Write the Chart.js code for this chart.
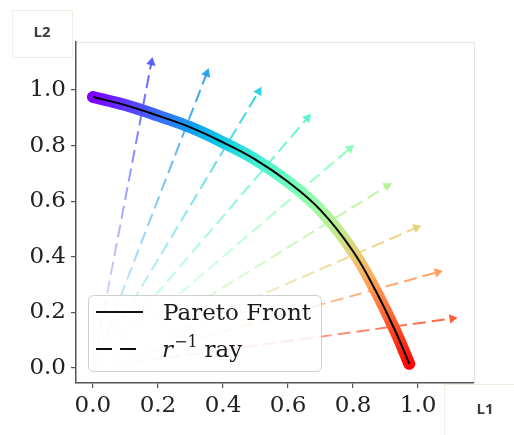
<!DOCTYPE html>
<html>
<head>
<meta charset="utf-8">
<script src="https://cdn.jsdelivr.net/npm/chart.js@4.4.1/dist/chart.umd.min.js"></script>
<style>
  html, body { margin: 0; padding: 0; background: #fff; }
  canvas { display: block; }
</style>
</head>
<body>
<canvas id="front" width="514" height="435"></canvas>
<script>
// Pareto front
const frontX = [0.00, 0.10, 0.20, 0.30, 0.40, 0.50, 0.60, 0.70, 0.80, 0.87, 0.93, 0.973];
const frontY = [0.975, 0.946, 0.908, 0.866, 0.812, 0.750, 0.670, 0.568, 0.420, 0.277, 0.133, 0.015];

// r^-1 rays: all start at the origin, these are the arrow ends
const rayEndX = [0.18, 0.35, 0.51, 0.66, 0.79, 0.905, 0.995, 1.06, 1.105];
const rayEndY = [1.10, 1.06, 0.995, 0.90, 0.79, 0.655, 0.505, 0.345, 0.178];

const tickValues = [0.0, 0.2, 0.4, 0.6, 0.8, 1.0];
const legendLabels = ["Pareto Front", "ray"];
const axisNames = ["L1", "L2"];

const SERIF = "'DejaVu Serif', serif";

// matplotlib "rainbow" colormap
function rainbow(t, alpha) {
  const r = Math.min(1, Math.abs(2 * t - 0.5));
  const g = Math.sin(Math.PI * t);
  const b = Math.cos(Math.PI * t / 2);
  return `rgba(${Math.round(r * 255)},${Math.round(g * 255)},${Math.round(b * 255)},${alpha})`;
}

function angleParam(x, y) {
  return 1 - Math.atan2(y, x) / (Math.PI / 2);
}

function frontGradient(chart) {
  const { ctx, chartArea, scales } = chart;
  if (!chartArea || !ctx.createConicGradient) {
    return "#8000ff";
  }
  const ox = scales.x.getPixelForValue(0);
  const oy = scales.y.getPixelForValue(0);
  const shift = 0.3;
  const gradient = ctx.createConicGradient(-Math.PI / 2 - shift, ox, oy);
  gradient.addColorStop(0, rainbow(0, 1));
  for (let k = 0; k <= 18; k++) {
    const theta = (Math.PI / 2) * (1 - k / 18);
    const dx = scales.x.getPixelForValue(Math.cos(theta)) - ox;
    const dy = scales.y.getPixelForValue(Math.sin(theta)) - oy;
    const phi = Math.atan2(dx, -dy);
    gradient.addColorStop((phi + shift) / (2 * Math.PI), rainbow(k / 18, 1));
  }
  gradient.addColorStop(0.6, rainbow(1, 1));
  gradient.addColorStop(1, rainbow(0, 1));
  return gradient;
}

function rayGradient(chart, i) {
  const { ctx, chartArea, scales } = chart;
  const t = angleParam(rayEndX[i], rayEndY[i]);
  if (!chartArea) {
    return rainbow(t, 0.8);
  }
  const x0 = scales.x.getPixelForValue(0);
  const y0 = scales.y.getPixelForValue(0);
  const x1 = scales.x.getPixelForValue(rayEndX[i]);
  const y1 = scales.y.getPixelForValue(rayEndY[i]);
  const gradient = ctx.createLinearGradient(x0, y0, x1, y1);
  gradient.addColorStop(0, rainbow(t, 0.05));
  gradient.addColorStop(1, rainbow(t, 0.9));
  return gradient;
}

function arrowRotation(chart, i) {
  const xs = chart.scales.x;
  const ys = chart.scales.y;
  if (!xs || !ys) {
    return 0;
  }
  const dx = xs.getPixelForValue(rayEndX[i]) - xs.getPixelForValue(0);
  const dy = ys.getPixelForValue(rayEndY[i]) - ys.getPixelForValue(0);
  return Math.atan2(dx, -dy) * 180 / Math.PI;
}

const frontPoints = frontX.map((x, i) => ({ x, y: frontY[i] }));

const rayDatasets = rayEndX.map((x, i) => ({
  data: [{ x: 0, y: 0 }, { x, y: rayEndY[i] }],
  showLine: true,
  borderWidth: 2,
  borderDash: [13, 6],
  borderColor: (context) => rayGradient(context.chart, i),
  pointRadius: [0, 5.5],
  pointStyle: "triangle",
  pointBorderWidth: 0,
  pointBackgroundColor: rainbow(angleParam(x, rayEndY[i]), 0.9),
  pointRotation: (context) => arrowRotation(context.chart, i),
  order: 2
}));

function roundedRect(ctx, x, y, w, h, r) {
  ctx.beginPath();
  ctx.moveTo(x + r, y);
  ctx.lineTo(x + w - r, y);
  ctx.arcTo(x + w, y, x + w, y + r, r);
  ctx.lineTo(x + w, y + h - r);
  ctx.arcTo(x + w, y + h, x + w - r, y + h, r);
  ctx.lineTo(x + r, y + h);
  ctx.arcTo(x, y + h, x, y + h - r, r);
  ctx.lineTo(x, y + r);
  ctx.arcTo(x, y, x + r, y, r);
  ctx.closePath();
}

const framePlugin = {
  id: "frame",
  beforeDraw(chart) {
    const { ctx, chartArea } = chart;
    ctx.save();
    ctx.fillStyle = "#ffffff";
    ctx.fillRect(0, 0, chart.width, chart.height);

    // faint top/right edges of the axes box
    ctx.strokeStyle = "#e4e4e4";
    ctx.lineWidth = 1;
    ctx.beginPath();
    ctx.moveTo(chartArea.left, chartArea.top + 0.5);
    ctx.lineTo(chartArea.right + 0.5, chartArea.top + 0.5);
    ctx.lineTo(chartArea.right + 0.5, chartArea.bottom);
    ctx.stroke();

    // axis name boxes
    ctx.strokeStyle = "#f1efe4";
    ctx.strokeRect(12.5, 10.5, 60, 47);
    ctx.strokeRect(444.5, 384.5, 80, 60);
    ctx.fillStyle = "#3c3c3c";
    ctx.font = "bold 15px 'Open Sans', 'DejaVu Sans', sans-serif";
    ctx.textAlign = "center";
    ctx.textBaseline = "middle";
    ctx.fillText(axisNames[1], 42, 33);
    ctx.fillText(axisNames[0], 485, 410);
    ctx.restore();
  },
  afterDatasetsDraw(chart) {
    const { ctx } = chart;
    ctx.save();
    roundedRect(ctx, 88.5, 295.5, 233, 76, 5);
    ctx.fillStyle = "rgba(255,255,255,0.8)";
    ctx.fill();
    ctx.strokeStyle = "#d0d0d0";
    ctx.lineWidth = 1;
    ctx.stroke();

    ctx.strokeStyle = "#111111";
    ctx.lineWidth = 2;
    ctx.beginPath();
    ctx.moveTo(96, 312);
    ctx.lineTo(143, 312);
    ctx.stroke();

    ctx.setLineDash([16, 8]);
    ctx.beginPath();
    ctx.moveTo(96, 349);
    ctx.lineTo(143, 349);
    ctx.stroke();
    ctx.setLineDash([]);

    ctx.fillStyle = "#1a1a1a";
    ctx.textBaseline = "alphabetic";
    ctx.textAlign = "left";
    ctx.font = `23px ${SERIF}`;
    ctx.fillText(legendLabels[0], 163, 320);

    ctx.font = `italic 23px ${SERIF}`;
    ctx.fillText("r", 162, 357);
    let x = 162 + ctx.measureText("r").width + 1;
    ctx.font = `16px ${SERIF}`;
    ctx.fillText("\u22121", x, 347);
    x += ctx.measureText("\u22121").width + 7;
    ctx.font = `23px ${SERIF}`;
    ctx.fillText(legendLabels[1], x, 357);
    ctx.restore();
  }
};

function axisOptions(min, max) {
  return {
    type: "linear",
    min,
    max,
    afterBuildTicks(scale) {
      scale.ticks = tickValues.map((value) => ({ value }));
    },
    grid: {
      drawOnChartArea: false,
      drawTicks: true,
      tickLength: 5,
      color: "#555555",
      lineWidth: 1.2
    },
    border: {
      display: true,
      color: "#555555",
      width: 1.5
    },
    ticks: {
      autoSkip: false,
      maxRotation: 0,
      color: "#222222",
      font: { family: SERIF, size: 23 },
      padding: 4,
      callback: (value) => Number(value).toFixed(1)
    }
  };
}

const xAxis = axisOptions(-0.052, 1.172);
xAxis.afterFit = (scale) => { scale.height = 52; };
const yAxis = axisOptions(-0.054, 1.173);
yAxis.afterFit = (scale) => { scale.width = 76; };
yAxis.ticks.padding = 5;

new Chart(document.getElementById("front"), {
  type: "scatter",
  data: {
    datasets: [
      {
        data: frontPoints,
        showLine: true,
        borderColor: "#000000",
        borderWidth: 2,
        pointRadius: 0,
        tension: 0.4,
        order: 0
      },
      {
        data: frontPoints,
        showLine: true,
        borderColor: (context) => frontGradient(context.chart),
        borderWidth: 12,
        borderCapStyle: "round",
        borderJoinStyle: "round",
        pointRadius: 0,
        tension: 0.4,
        order: 1
      },
      ...rayDatasets
    ]
  },
  options: {
    responsive: false,
    animation: false,
    devicePixelRatio: 1,
    layout: { padding: { top: 42, right: 40, left: 0, bottom: 0 } },
    scales: { x: xAxis, y: yAxis },
    plugins: {
      legend: { display: false },
      tooltip: { enabled: false }
    }
  },
  plugins: [framePlugin]
});
</script>
</body>
</html>
